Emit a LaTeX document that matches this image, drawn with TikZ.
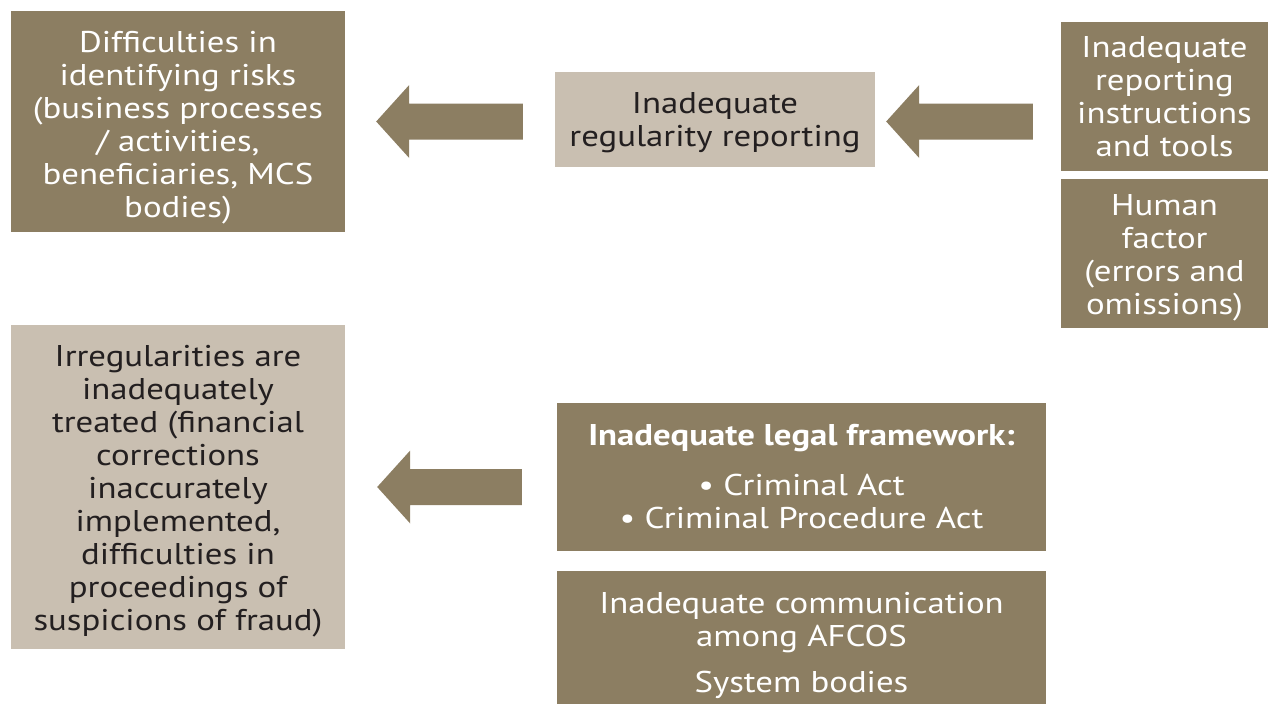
\documentclass[tikz,border=0pt]{standalone}
\usepackage{fontspec}
\setmainfont[FakeStretch=1.16]{PT Sans}
\usetikzlibrary{calc}
\definecolor{darkbox}{HTML}{8C7E62}
\definecolor{lightbox}{HTML}{C9BFB1}
\definecolor{inktext}{HTML}{231F20}
% a taller first line pushes the whole text block down inside its box
\newcommand\firststrut[1]{\rule{0pt}{#1}}
\tikzset{
  box/.style={rectangle, inner sep=0pt, align=center, font=\fontsize{30}{33}\selectfont},
  darkbox/.style={box, fill=darkbox, text=white},
  lightbox/.style={box, fill=lightbox, text=inktext},
  fatarrow/.style={fill=darkbox, draw=none}
}
\begin{document}
\begin{tikzpicture}[x=1pt, y=-1pt]
  \useasboundingbox (0,0) rectangle (1268,704);

  % boxes
  \node[darkbox, minimum width=334pt, minimum height=221pt] (risks) at (178,121.5)
    {\firststrut{34pt}Difficulties in\\identifying risks\\(business processes\\/ activities,\\beneficiaries, MCS\\bodies)};
  \node[lightbox, minimum width=320pt, minimum height=95pt] (reporting) at (715,119.5)
    {\firststrut{27pt}Inadequate\\regularity reporting};
  \node[darkbox, minimum width=207pt, minimum height=149pt] (tools) at (1164.5,96.5)
    {Inadequate\\reporting\\instructions\\and tools};
  \node[darkbox, minimum width=207pt, minimum height=149pt] (human) at (1164.5,253.5)
    {\firststrut{30pt}Human\\factor\\(errors and\\omissions)};
  \node[lightbox, minimum width=334pt, minimum height=324pt] (treated) at (178,487)
    {\firststrut{30pt}Irregularities are\\inadequately\\treated (financial\\corrections\\inaccurately\\implemented,\\difficulties in\\proceedings of\\suspicions of fraud)};
  \node[darkbox, minimum width=489pt, minimum height=148pt] (legal) at (801.5,477)
    {\textbf{Inadequate legal framework:}\\[17pt]• Criminal Act\\• Criminal Procedure Act};
  \node[darkbox, minimum width=489pt, minimum height=133pt] (comm) at (801.5,637.5)
    {\firststrut{38pt}Inadequate communication\\among AFCOS\\[13pt]System bodies};

  % block arrows: from the cause box (tail) to the effect box (tip)
  \foreach \src/\dst/\ypos/\tipgap/\tailgap/\n in
      {reporting/risks/risks/31/32/1, tools/reporting/risks/11/28/2, legal/treated/treated/32/35/3}{
    \coordinate (tip\n) at ($(\dst.east |- \ypos.east)+(\tipgap,0)$);
    \coordinate (tail\n) at ($(\src.west |- \ypos.east)+(-\tailgap,0)$);
    \fill[fatarrow] (tip\n) -- ($(tip\n)+(33,-36.5)$) -- ($(tip\n)+(33,-18)$)
      -- ($(tail\n)+(0,-18)$) -- ($(tail\n)+(0,18)$) -- ($(tip\n)+(33,18)$)
      -- ($(tip\n)+(33,36.5)$) -- cycle;
  }
\end{tikzpicture}
\end{document}
